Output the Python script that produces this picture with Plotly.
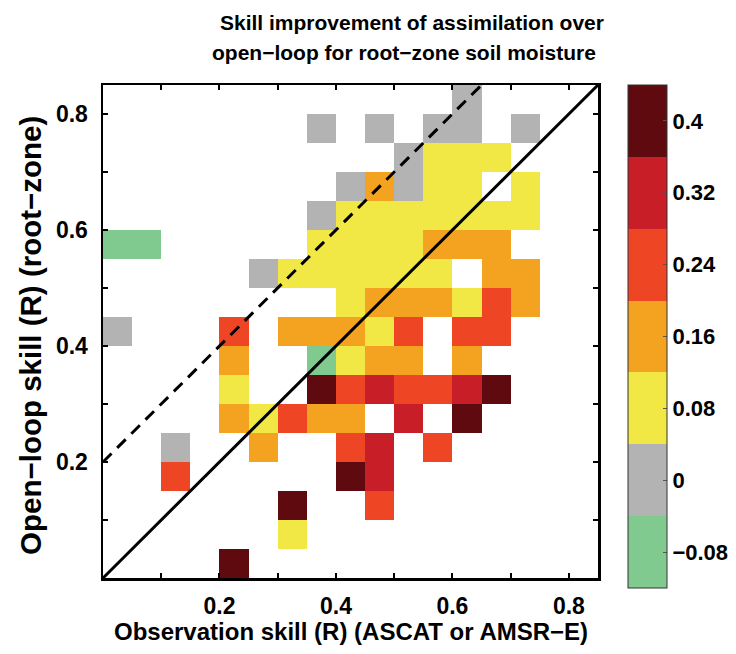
import plotly.graph_objects as go

# ---- data ----
# lower-left corner of each 0.05 x 0.05 bin and the skill improvement (dR)
obs_skill = [0.60,
             0.35, 0.45, 0.55, 0.60, 0.70,
             0.50, 0.55, 0.60, 0.65,
             0.40, 0.45, 0.50, 0.55, 0.60, 0.70,
             0.35, 0.40, 0.45, 0.50, 0.55, 0.60, 0.65, 0.70,
             0.00, 0.05, 0.35, 0.40, 0.45, 0.50, 0.55, 0.60, 0.65,
             0.25, 0.30, 0.35, 0.40, 0.45, 0.50, 0.55, 0.65, 0.70,
             0.40, 0.45, 0.50, 0.55, 0.60, 0.65, 0.70,
             0.00, 0.20, 0.30, 0.35, 0.40, 0.45, 0.50, 0.60, 0.65,
             0.20, 0.35, 0.40, 0.45, 0.50, 0.60,
             0.20, 0.35, 0.40, 0.45, 0.50, 0.55, 0.60, 0.65,
             0.20, 0.25, 0.30, 0.35, 0.40, 0.50, 0.60,
             0.10, 0.25, 0.40, 0.45, 0.55,
             0.10, 0.40, 0.45,
             0.30, 0.45,
             0.30,
             0.20]
ol_skill = [0.80,
            0.75, 0.75, 0.75, 0.75, 0.75,
            0.70, 0.70, 0.70, 0.70,
            0.65, 0.65, 0.65, 0.65, 0.65, 0.65,
            0.60, 0.60, 0.60, 0.60, 0.60, 0.60, 0.60, 0.60,
            0.55, 0.55, 0.55, 0.55, 0.55, 0.55, 0.55, 0.55, 0.55,
            0.50, 0.50, 0.50, 0.50, 0.50, 0.50, 0.50, 0.50, 0.50,
            0.45, 0.45, 0.45, 0.45, 0.45, 0.45, 0.45,
            0.40, 0.40, 0.40, 0.40, 0.40, 0.40, 0.40, 0.40, 0.40,
            0.35, 0.35, 0.35, 0.35, 0.35, 0.35,
            0.30, 0.30, 0.30, 0.30, 0.30, 0.30, 0.30, 0.30,
            0.25, 0.25, 0.25, 0.25, 0.25, 0.25, 0.25,
            0.20, 0.20, 0.20, 0.20, 0.20,
            0.15, 0.15, 0.15,
            0.10, 0.10,
            0.05,
            0.00]
skill_gain = [0.00,
              0.00, 0.00, 0.00, 0.00, 0.00,
              0.00, 0.08, 0.08, 0.08,
              0.00, 0.16, 0.00, 0.08, 0.08, 0.08,
              0.00, 0.08, 0.08, 0.08, 0.08, 0.08, 0.08, 0.08,
              -0.08, -0.08, 0.08, 0.08, 0.08, 0.08, 0.16, 0.16, 0.16,
              0.00, 0.08, 0.08, 0.08, 0.08, 0.08, 0.08, 0.16, 0.16,
              0.08, 0.16, 0.16, 0.16, 0.08, 0.24, 0.16,
              0.00, 0.24, 0.16, 0.16, 0.16, 0.08, 0.24, 0.24, 0.24,
              0.16, -0.08, 0.08, 0.16, 0.16, 0.16,
              0.08, 0.40, 0.24, 0.32, 0.24, 0.24, 0.32, 0.40,
              0.16, 0.08, 0.24, 0.16, 0.16, 0.32, 0.40,
              0.00, 0.16, 0.24, 0.32, 0.24,
              0.24, 0.40, 0.32,
              0.40, 0.24,
              0.08,
              0.40]

bin_width = 0.05
axis_max = 0.85
dashed_offset = 0.2
axis_tick_vals = [0.1, 0.2, 0.3, 0.4, 0.5, 0.6, 0.7, 0.8]
axis_tick_text = ["", "0.2", "", "0.4", "", "0.6", "", "0.8"]
cbar_tick_vals = [-0.08, 0.0, 0.08, 0.16, 0.24, 0.32, 0.40]
cbar_tick_text = ["\u22120.08", "0", "0.08", "0.16", "0.24", "0.32", "0.4"]
cbar_colors = ["#80CA90", "#B3B3B3", "#F2E845", "#F4A321",
               "#EE4524", "#C81E27", "#5E0A0E"]
cbar_min, cbar_max = -0.12, 0.44

title_lines = ["Skill improvement of assimilation over",
               "open\u2212loop for root\u2212zone soil moisture"]
x_title = "Observation skill (R) (ASCAT or AMSR\u2212E)"
y_title = "Open\u2212loop skill (R) (root\u2212zone)"

# ---- build grid ----
nbins = int(round(axis_max / bin_width))
z = [[None] * nbins for _ in range(nbins)]
for xo, yo, v in zip(obs_skill, ol_skill, skill_gain):
    z[int(round(yo / bin_width))][int(round(xo / bin_width))] = v

n = len(cbar_colors)
colorscale = []
for i, c in enumerate(cbar_colors):
    colorscale.append([i / n, c])
    colorscale.append([(i + 1) / n, c])

FONT = "Liberation Sans"

fig = go.Figure()
fig.add_trace(go.Heatmap(
    z=z, x0=bin_width / 2, dx=bin_width, y0=bin_width / 2, dy=bin_width,
    zmin=cbar_min, zmax=cbar_max, colorscale=colorscale, zsmooth=False,
    hoverongaps=False,
    colorbar=dict(
        tickvals=cbar_tick_vals, ticktext=cbar_tick_text,
        thickness=39, thicknessmode="pixels",
        len=503, lenmode="pixels",
        x=1.0606, xanchor="left", xpad=0,
        y=0.49, yanchor="middle", ypad=0,
        outlinewidth=1, outlinecolor="#333333",
        ticks="inside", ticklen=4, tickcolor="#555555",
        tickfont=dict(family=FONT, size=22, color="black", weight="bold"),
    ),
))

# 1:1 line
fig.add_trace(go.Scatter(
    x=[0, axis_max], y=[0, axis_max], mode="lines",
    line=dict(color="black", width=3), showlegend=False, hoverinfo="skip"))
# dashed offset line
fig.add_trace(go.Scatter(
    x=[0, axis_max - dashed_offset], y=[dashed_offset, axis_max], mode="lines",
    line=dict(color="black", width=3, dash="12px,8px"), showlegend=False,
    hoverinfo="skip"))

axis_common = dict(
    range=[0, axis_max], showgrid=False, zeroline=False,
    showline=True, linecolor="black", linewidth=2.5, mirror="ticks",
    ticks="inside", ticklen=5, tickwidth=2, tickcolor="black",
    tickvals=axis_tick_vals, ticktext=axis_tick_text,
    tickfont=dict(family=FONT, size=23, color="black", weight="bold"),
    automargin=False,
)

tfont = dict(family=FONT, size=21, color="black", weight="bold")
annotations = [
    dict(text=title_lines[0], x=0.624, y=1.126, xref="paper", yref="paper",
         xanchor="center", yanchor="middle", showarrow=False, font=tfont),
    dict(text=title_lines[1], x=0.609, y=1.065, xref="paper", yref="paper",
         xanchor="center", yanchor="middle", showarrow=False, font=tfont),
    dict(text=x_title, x=0.501, y=-0.108, xref="paper", yref="paper",
         xanchor="center", yanchor="middle", showarrow=False,
         font=dict(family=FONT, size=24, color="black", weight="bold")),
    dict(text=y_title, x=-0.1455, y=0.493, xref="paper", yref="paper",
         xanchor="center", yanchor="middle", showarrow=False, textangle=-90,
         font=dict(family=FONT, size=29.5, color="black", weight="bold")),
]

fig.update_layout(
    width=736, height=654,
    margin=dict(l=103, r=138, t=85, b=76, autoexpand=False),
    plot_bgcolor="white", paper_bgcolor="white",
    showlegend=False,
    annotations=annotations,
    xaxis=dict(**axis_common, ticklabelstandoff=6),
    yaxis=dict(**axis_common, ticklabelstandoff=8),
)

fig.write_html("out.html",
               config={"displayModeBar": False, "staticPlot": True},
               post_script="document.body.style.margin='0';")
